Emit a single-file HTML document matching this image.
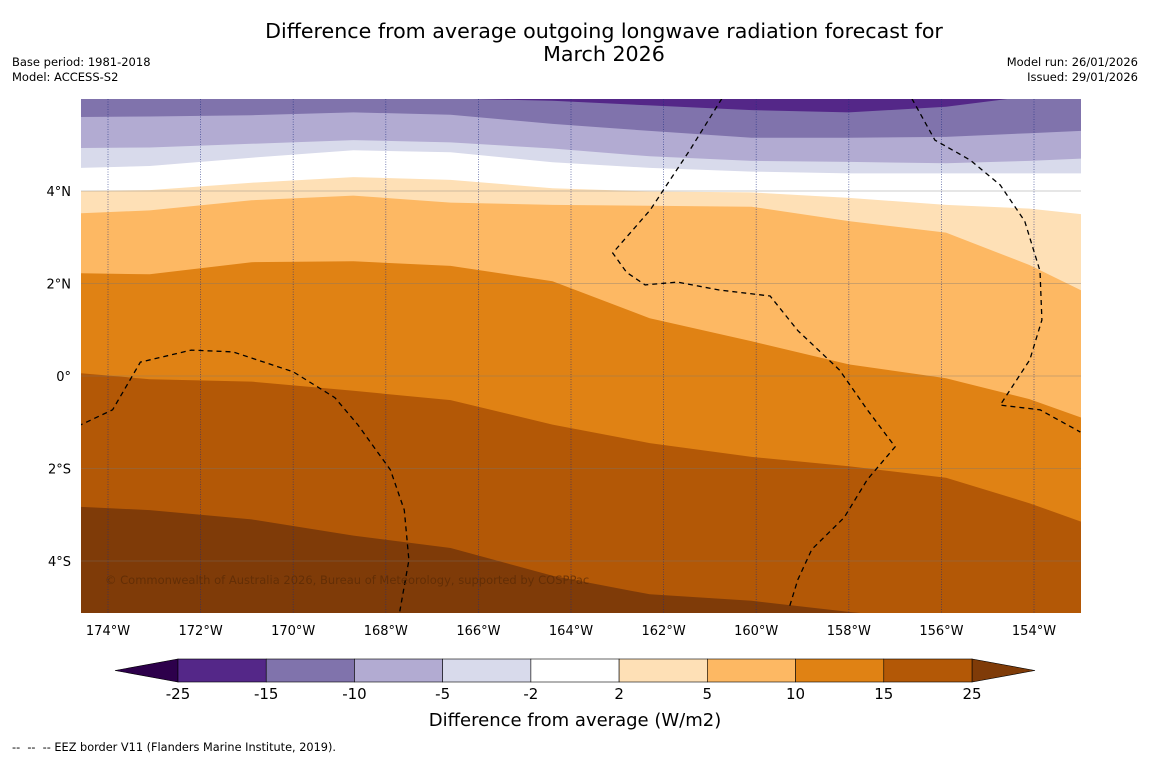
<!DOCTYPE html>
<html><head><meta charset="utf-8"><style>
body{margin:0;background:#fff;font-family:"DejaVu Sans","Liberation Sans",sans-serif;}
svg{display:block}
</style></head><body>
<svg width="1150" height="758" viewBox="0 0 1150 758" font-family="DejaVu Sans, Liberation Sans, sans-serif">
<rect width="1150" height="758" fill="#fff"/>
<text x="604" y="38" text-anchor="middle" font-size="20.6">Difference from average outgoing longwave radiation forecast for</text>
<text x="604" y="61" text-anchor="middle" font-size="20.6">March 2026</text>
<text x="12" y="66" font-size="11.5">Base period: 1981-2018</text>
<text x="12" y="81" font-size="11.5">Model: ACCESS-S2</text>
<text x="1138" y="66" font-size="11.5" text-anchor="end">Model run: 26/01/2026</text>
<text x="1138" y="81" font-size="11.5" text-anchor="end">Issued: 29/01/2026</text>
<defs><clipPath id="mapclip"><rect x="81" y="99" width="1000" height="514"/></clipPath></defs>
<g id="map" clip-path="url(#mapclip)"></g>
<g id="axes"></g>
<g id="cbar"></g>
<text x="575" y="726" text-anchor="middle" font-size="18">Difference from average (W/m2)</text>
<text x="12" y="751" font-size="11.3">-- &#160;-- &#160;-- EEZ border V11 (Flanders Marine Institute, 2019).</text>
</svg>
<script>
const lonTicks=[-174,-172,-170,-168,-166,-164,-162,-160,-158,-156,-154];
const latTicks=[4,2,0,-2,-4];
const latLabels=["4°N","2°N","0°","2°S","4°S"];
const levels=[-25,-15,-10,-5,-2,2,5,10,15,25];
const bandColors=["#2d004b","#542788","#8073ac","#b2abd2","#d8daeb","#ffffff","#fee0b6","#fdb863","#e08214","#b35806","#7f3b08"];
const bLon=[-174.58,-173.1,-170.9,-168.7,-166.6,-164.4,-162.3,-160.1,-158.0,-155.9,-154.1,-152.98];
const b15=[6.2,6.2,6.2,6.2,6.0,5.95,5.85,5.75,5.7,5.82,6.05,6.2];
const b10=[5.6,5.61,5.64,5.7,5.65,5.45,5.3,5.15,5.15,5.17,5.25,5.3];
const b5=[4.93,4.94,5.02,5.1,5.05,4.92,4.75,4.65,4.63,4.6,4.65,4.7];
const b2=[4.5,4.54,4.72,4.88,4.84,4.62,4.5,4.42,4.38,4.38,4.38,4.38];
const b_2=[4.0,4.02,4.18,4.3,4.24,4.06,3.99,3.97,3.85,3.7,3.62,3.5];
const b_5=[3.52,3.58,3.8,3.9,3.75,3.7,3.68,3.66,3.35,3.1,2.4,1.85];
const b_10=[2.22,2.2,2.46,2.48,2.38,2.05,1.25,0.75,0.25,-0.05,-0.5,-0.9];
const b_15=[0.06,-0.07,-0.12,-0.32,-0.52,-1.05,-1.45,-1.75,-1.95,-2.2,-2.75,-3.15];
const b_25=[-2.83,-2.9,-3.1,-3.45,-3.72,-4.32,-4.72,-4.86,-5.1,-5.3,-5.4,-5.5];
const boundaries=[b15,b10,b5,b2,b_2,b_5,b_10,b_15,b_25];
const boundaryColors=["#8073ac","#b2abd2","#d8daeb","#ffffff","#fee0b6","#fdb863","#e08214","#b35806","#7f3b08"];
const eezA=[[-175,-1.25],[-173.9,-0.73],[-173.3,0.3],[-172.2,0.56],[-171.3,0.52],[-170,0.09],[-169.1,-0.47],[-168.6,-1.06],[-167.9,-2.03],[-167.6,-2.9],[-167.5,-3.98],[-167.7,-5.1]];
const eezB=[[-160.74,6.0],[-161.43,4.89],[-162.29,3.59],[-163.1,2.66],[-162.8,2.24],[-162.4,1.97],[-161.7,2.03],[-160.8,1.86],[-159.7,1.73],[-159.1,0.98],[-158.2,0.13],[-157.6,-0.73],[-157.0,-1.53],[-157.6,-2.24],[-158.1,-3.06],[-158.8,-3.75],[-159.1,-4.4],[-159.3,-5.05]];
const eezC=[[-156.64,6.0],[-156.14,5.1],[-155.38,4.67],[-154.73,4.13],[-154.2,3.35],[-153.87,2.27],[-153.83,1.21],[-154.09,0.35],[-154.73,-0.63],[-153.87,-0.73],[-153.0,-1.21]];
const NS="http://www.w3.org/2000/svg";
const x=lon=>108+(lon+174)*46.3;
const y=lat=>376-lat*46.25;
function el(tag,attrs,parent){const e=document.createElementNS(NS,tag);for(const k in attrs)e.setAttribute(k,attrs[k]);parent.appendChild(e);return e;}
const map=document.getElementById('map');
const bg=el('rect',{x:81,y:99,width:1000,height:514,fill:bandColors[1]},map);


boundaries.forEach((b,i)=>{
  let d='M70,'+y(b[0]);
  bLon.forEach((lo,j)=>{d+=' L'+x(lo).toFixed(1)+','+y(b[j]).toFixed(1);});
  d+=' L1090,'+y(b[b.length-1])+' L1090,620 L70,620 Z';
  const p=el('path',{d:d,fill:boundaryColors[i],stroke:'none'},map);
  
  
});
lonTicks.forEach(lo=>{const l=el('line',{x1:x(lo),x2:x(lo),y1:99,y2:613,stroke:'#1a2a80',"stroke-width":0.8,"stroke-dasharray":"1,1.5",opacity:0.7},map);

});
latTicks.forEach(la=>{const l=el('line',{x1:81,x2:1081,y1:y(la),y2:y(la),stroke:'#777',"stroke-width":0.6,opacity:0.7},map);

});
[eezA,eezB,eezC].forEach((ln,i)=>{
  const p=el('polyline',{points:ln.map(q=>x(q[0]).toFixed(1)+','+y(q[1]).toFixed(1)).join(' '),fill:'none',stroke:'#000','stroke-width':1.3,'stroke-dasharray':'5,4'},map);
  
  
});
const cp=el('text',{x:105,y:584,'font-size':11.5,fill:'#5a2a05',opacity:0.75},map);
cp.textContent='© Commonwealth of Australia 2026, Bureau of Meteorology, supported by COSPPac';


const axes=document.getElementById('axes');
lonTicks.forEach(lo=>{
  const t=el('text',{x:x(lo),y:635,'text-anchor':'middle','font-size':13},axes);
  t.textContent=Math.abs(lo)+'°W';
  
  
});
latTicks.forEach((la,i)=>{
  const t=el('text',{x:71,y:y(la)+5,'text-anchor':'end','font-size':13},axes);
  t.textContent=latLabels[i];
  
  
});
const cb=document.getElementById('cbar');
const cx0=178,cx1=972,cy=659,ch=23,seg=(cx1-cx0)/(levels.length-1);
const lt=el('polygon',{points:`115,${cy+ch/2} ${cx0},${cy} ${cx0},${cy+ch}`,fill:bandColors[0],stroke:'#000','stroke-width':0.6},cb);


const rt=el('polygon',{points:`1035,${cy+ch/2} ${cx1},${cy} ${cx1},${cy+ch}`,fill:bandColors[10],stroke:'#000','stroke-width':0.6},cb);


for(let i=0;i<levels.length-1;i++){
  const r=el('rect',{x:cx0+i*seg,y:cy,width:seg,height:ch,fill:bandColors[i+1],stroke:'#000','stroke-width':0.6},cb);
  
  
}
levels.forEach((lv,i)=>{
  const t=el('text',{x:cx0+i*seg,y:699,'text-anchor':'middle','font-size':15},cb);
  t.textContent=lv;
  
  
});
</script>
</body></html>
